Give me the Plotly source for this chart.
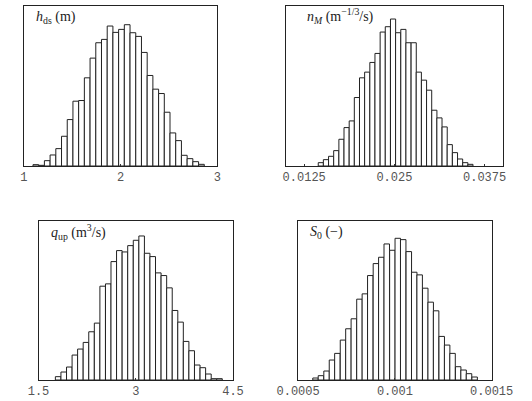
import plotly.graph_objects as go

# ---- data (bin centres and bar heights) ----
h_ds_bins = [1.124, 1.183, 1.242, 1.301, 1.360, 1.419, 1.478, 1.537, 1.596, 1.655,
             1.714, 1.773, 1.832, 1.891, 1.950, 2.009, 2.068, 2.127, 2.186, 2.245,
             2.304, 2.363, 2.422, 2.481, 2.540, 2.599, 2.658, 2.717, 2.776, 2.835]
h_ds_counts = [4, 2, 16, 33, 52, 89, 139, 194, 196, 264, 323, 369, 379, 419, 400,
               409, 423, 399, 388, 340, 271, 230, 217, 161, 99, 76, 32, 22, 13, 5]
h_ds_width = 0.059

n_M_bins = [0.01480, 0.01551, 0.01623, 0.01694, 0.01766, 0.01837, 0.01909, 0.01980,
            0.02052, 0.02123, 0.02195, 0.02266, 0.02338, 0.02409, 0.02481, 0.02552,
            0.02624, 0.02695, 0.02767, 0.02838, 0.02910, 0.02981, 0.03053, 0.03124,
            0.03196, 0.03267, 0.03339, 0.03410, 0.03482, 0.03553]
n_M_counts = [10, 19, 29, 46, 80, 115, 135, 205, 264, 281, 310, 337, 401, 417, 440,
              399, 409, 369, 369, 281, 257, 227, 167, 144, 117, 64, 40, 21, 10, 5]
n_M_width = 0.000715

q_up_bins = [1.803, 1.889, 1.975, 2.061, 2.146, 2.232, 2.318, 2.404, 2.490, 2.576,
             2.661, 2.747, 2.833, 2.919, 3.005, 3.091, 3.176, 3.262, 3.348, 3.434,
             3.520, 3.606, 3.691, 3.777, 3.863, 3.949, 4.035, 4.121, 4.206, 4.292]
q_up_counts = [10, 24, 39, 75, 93, 113, 145, 171, 282, 289, 356, 389, 385, 404, 420,
               433, 381, 371, 322, 314, 277, 209, 174, 116, 88, 45, 37, 18, 4, 4]
q_up_width = 0.0858

S0_bins = [0.000590, 0.000618, 0.000647, 0.000675, 0.000703, 0.000732, 0.000760,
           0.000788, 0.000817, 0.000845, 0.000873, 0.000902, 0.000930, 0.000958,
           0.000987, 0.001015, 0.001043, 0.001072, 0.001100, 0.001128, 0.001157,
           0.001185, 0.001213, 0.001242, 0.001270, 0.001298, 0.001327, 0.001355,
           0.001383, 0.001412]
S0_counts = [6, 13, 27, 60, 80, 120, 154, 184, 243, 259, 314, 350, 369, 409, 390,
             426, 422, 386, 324, 316, 276, 234, 208, 131, 105, 80, 40, 30, 19, 9]
S0_width = 0.00002833

tick_vals = [[1, 2, 3], [0.0125, 0.025, 0.0375], [1.5, 3, 4.5], [0.0005, 0.001, 0.0015]]
tick_text = [["1", "2", "3"], ["0.0125", "0.025", "0.0375"],
             ["1.5", "3", "4.5"], ["0.0005", "0.001", "0.0015"]]
x_ranges = [[1, 3], [0.01, 0.04], [1.5, 4.5], [0.0005, 0.0015]]
y_tops = [479, 479, 478, 478]
titles = ["<i>h</i><sub>ds</sub> (m)",
          "<i>n<sub>M</sub></i> (m<sup>\u22121/3</sup>/s)",
          "<i>q</i><sub>up</sub> (m<sup>3</sup>/s)",
          "<i>S</i><sub>0</sub> (\u2212)"]

W, H = 532, 401
# panel boxes in pixels: left, right, top, bottom
boxes = [(2, 213, 6, 166), (288, 524, 6, 166), (18, 230, 221, 380), (301, 512, 221, 380)]
title_pos = [(13, 17), (308, 16), (29, 232), (312, 232)]

series = [(h_ds_bins, h_ds_counts, h_ds_width), (n_M_bins, n_M_counts, n_M_width),
          (q_up_bins, q_up_counts, q_up_width), (S0_bins, S0_counts, S0_width)]

fig = go.Figure()
layout = dict(width=W, height=H, margin=dict(l=0, r=0, t=0, b=0),
              paper_bgcolor="white", plot_bgcolor="white", showlegend=False,
              annotations=[])
for i, ((bins, counts, w), box) in enumerate(zip(series, boxes)):
    n = "" if i == 0 else str(i + 1)
    fig.add_trace(go.Bar(x=bins, y=counts, width=w,
                         marker=dict(color="white", line=dict(color="#222", width=1)),
                         xaxis="x" + n, yaxis="y" + n, hoverinfo="skip"))
    l, r, t, b = box
    layout["xaxis" + n] = dict(domain=[l / W, r / W], range=x_ranges[i], anchor="y" + n,
                               tickvals=tick_vals[i], ticktext=tick_text[i],
                               ticks="inside", ticklen=2, tickcolor="#333",
                               showline=True, linecolor="#222", linewidth=1, mirror=True,
                               showgrid=False, zeroline=False,
                               tickfont=dict(family="Liberation Mono", size=12, color="#555"))
    layout["yaxis" + n] = dict(domain=[1 - b / H, 1 - t / H], range=[0, y_tops[i]],
                               anchor="x" + n, showticklabels=False, ticks="",
                               showline=True, linecolor="#222", linewidth=1, mirror=True,
                               showgrid=False, zeroline=False)
    tx, ty = title_pos[i]
    layout["annotations"].append(dict(text=titles[i], x=tx / W, y=1 - ty / H,
                                      xref="paper", yref="paper", xanchor="left",
                                      yanchor="middle", showarrow=False,
                                      font=dict(family="Liberation Serif", size=14,
                                                color="#222")))
fig.update_layout(**layout)
fig.write_html("out.html")
